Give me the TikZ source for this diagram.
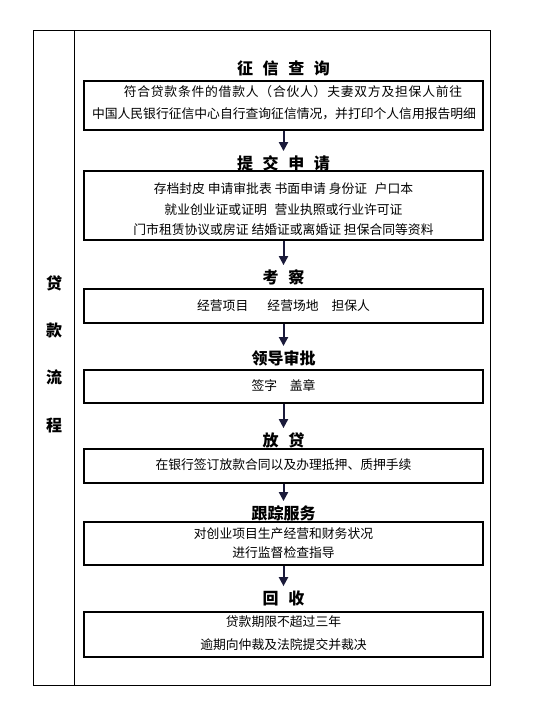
\documentclass[tikz,border=0pt]{standalone}
\usepackage{fontspec}
\newfontfamily\cjk{Noto Sans CJK SC}
\usetikzlibrary{arrows.meta}
\definecolor{arrowcol}{HTML}{1A1A3A}
\tikzset{
  box/.style={draw=black, line width=1.2pt, minimum width=399pt, inner sep=0pt},
  txt/.style={inner sep=0pt, text height=0.8em, text depth=0.2em,
              font=\cjk\fontsize{12.8}{15}\selectfont},
  ttl/.style={inner sep=2pt, font=\cjk\bfseries\fontsize{16}{18}\selectfont},
  side/.style={inner sep=0pt, font=\cjk\bfseries\fontsize{16}{18}\selectfont},
  flow/.style={draw=arrowcol, line width=2pt, -{Triangle[length=9pt,width=9pt]}, shorten >=2pt},
  frame/.style={draw=black, line width=1pt}
}
\newcommand{\gapsp}{\hspace{0.6em}}
\begin{document}
\begin{tikzpicture}[x=1pt,y=-1pt]
\useasboundingbox (0,0) rectangle (533,728);
\fill[white] (0,0) rectangle (533,728);
% outer frame
\draw[frame] (33,30) rectangle (490,685);
\draw[frame] (74,30) -- (74,685);
% left column
\node[side] (s1) at (54,283) {贷};
\node[side] (s2) at (54,330) {款};
\node[side] (s3) at (54,377) {流};
\node[side] (s4) at (54,425) {程};
% titles
\node[ttl] (t1) at (283.5,68) {征\gapsp 信\gapsp 查\gapsp 询};
\node[ttl] (t2) at (283.5,163) {提\gapsp 交\gapsp 申\gapsp 请};
\node[ttl] (t3) at (283.5,277) {考\gapsp 察};
\node[ttl] (t4) at (283.5,358) {领导审批};
\node[ttl] (t5) at (283.5,440) {放\gapsp 贷};
\node[ttl] (t6) at (283.5,513) {跟踪服务};
\node[ttl] (t7) at (283.5,598) {回\gapsp 收};
% boxes
\node[box, minimum height=49pt] (b1) at (283.5,105.5) {};
\node[box, minimum height=69pt] (b2) at (283.5,205.5) {};
\node[box, minimum height=34pt] (b3) at (283.5,306) {};
\node[box, minimum height=33pt] (b4) at (283.5,386.5) {};
\node[box, minimum height=34pt] (b5) at (283.5,466) {};
\node[box, minimum height=43pt] (b6) at (283.5,543.5) {};
\node[box, minimum height=45pt] (b7) at (283.5,634.5) {};
% box texts
\node[txt] (l11) at (293,93) {\addfontfeature{LetterSpace=6}符合贷款条件的借款人（合伙人）夫妻双方及担保人前往};
\node[txt] (l12) at (284,115) {中国人民银行征信中心自行查询征信情况，并打印个人信用报告明细};
\node[txt] (l21) at (283.5,190) {存档封皮 申请审批表 书面申请 身份证\gapsp 户口本};
\node[txt] (l22) at (283.5,211) {就业创业证或证明\gapsp 营业执照或行业许可证};
\node[txt] (l23) at (283.5,231) {门市租赁协议或房证 结婚证或离婚证 担保合同等资料};
\node[txt] (l31) at (283.5,307) {经营项目\hspace{1.5em}经营场地\hspace{1em}担保人};
\node[txt] (l41) at (283.5,387) {签字\hspace{1em}盖章};
\node[txt] (l51) at (283.5,466) {在银行签订放款合同以及办理抵押、质押手续};
\node[txt] (l61) at (283.5,535) {对创业项目生产经营和财务状况};
\node[txt] (l62) at (283.5,554) {进行监督检查指导};
\node[txt] (l71) at (283.5,623) {贷款期限不超过三年};
\node[txt] (l72) at (283.5,646) {逾期向仲裁及法院提交并裁决};
% arrows
\draw[flow] (b1.south) -- (t2.north);
\draw[flow] (b2.south) -- (t3.north);
\draw[flow] (b3.south) -- (t4.north);
\draw[flow] (b4.south) -- (t5.north);
\draw[flow] (b5.south) -- (t6.north);
\draw[flow] (b6.south) -- (t7.north);
\end{tikzpicture}
\end{document}
